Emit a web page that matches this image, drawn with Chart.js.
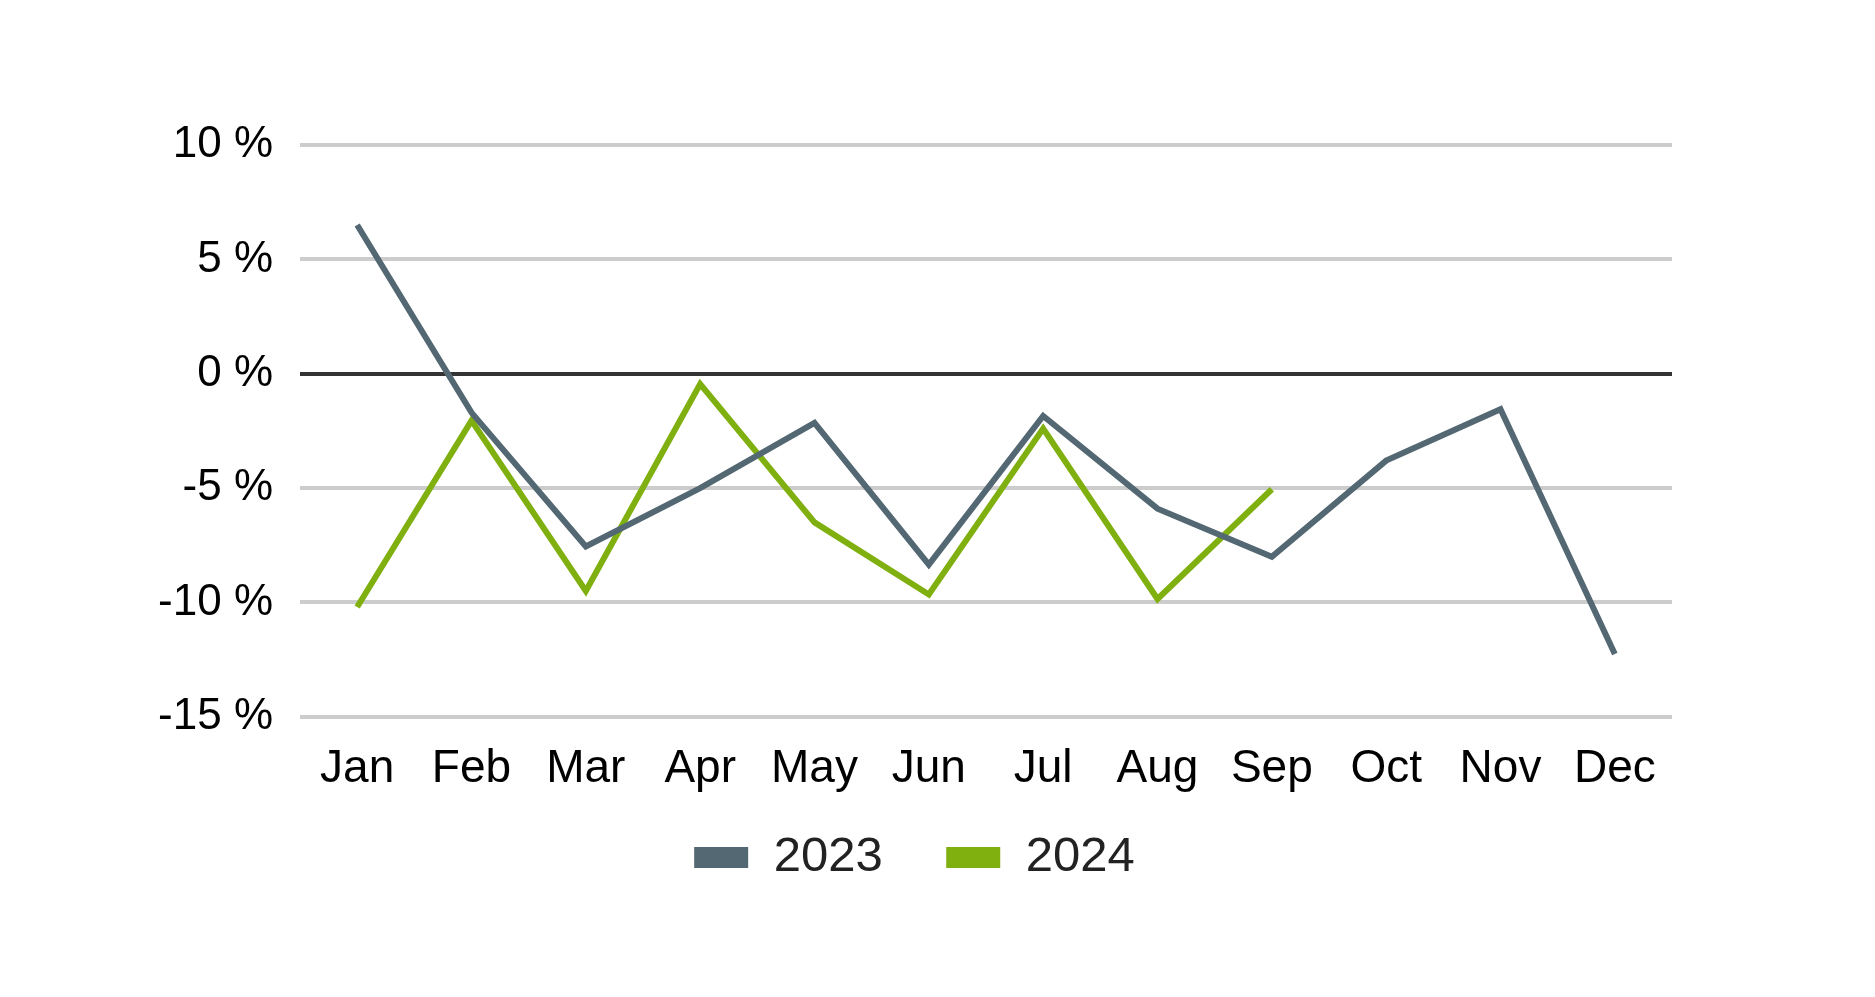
<!DOCTYPE html>
<html lang="en">
<head>
    <meta charset="UTF-8">
    <script src="https://cdn.jsdelivr.net/npm/chart.js"></script>
    <title>2023 vs 2024</title>
    <style>
        html, body {
            margin: 0;
            padding: 0;
            background: #ffffff;
        }
        .chart-box {
            width: 1875px;
            height: 997px;
        }
    </style>
</head>
<body>
<div class="chart-box">
    <canvas id="grafico"></canvas>
</div>

<script>
    // Datos (variación en %)
    const meses = ['Jan', 'Feb', 'Mar', 'Apr', 'May', 'Jun', 'Jul', 'Aug', 'Sep', 'Oct', 'Nov', 'Dec'];
    const valores2023 = [6.5, -1.7, -7.55, -5.0, -2.15, -8.35, -1.85, -5.9, -8.0, -3.8, -1.55, -12.25];
    const valores2024 = [-10.2, -2.05, -9.5, -0.45, -6.5, -9.65, -2.4, -9.85, -5.05];
    const ticksY = [10, 5, 0, -5, -10, -15];

    const fuente = "'Liberation Sans', Arial, sans-serif";

    const ctx = document.getElementById('grafico').getContext('2d');
    new Chart(ctx, {
        type: 'line',
        data: {
            labels: meses,
            datasets: [
                {
                    label: '2023',
                    data: valores2023,
                    borderColor: '#536872',
                    backgroundColor: '#536872',
                    borderWidth: 6,
                    pointRadius: 0,
                    tension: 0,
                    borderJoinStyle: 'miter'
                },
                {
                    label: '2024',
                    data: valores2024,
                    borderColor: '#7fb00f',
                    backgroundColor: '#7fb00f',
                    borderWidth: 6,
                    pointRadius: 0,
                    tension: 0,
                    borderJoinStyle: 'miter'
                }
            ]
        },
        options: {
            responsive: true,
            maintainAspectRatio: false,
            animation: false,
            layout: {
                padding: { top: 145, right: 43, bottom: 105, left: 0 }
            },
            plugins: {
                tooltip: { enabled: false },
                legend: {
                    position: 'bottom',
                    labels: {
                        boxWidth: 48,
                        boxHeight: 15,
                        padding: 12,
                        color: '#222222',
                        font: { family: fuente, size: 49 },
                        // pequeño espacio tras la caja, y hueco extra entre los dos años
                        generateLabels: chart =>
                            Chart.defaults.plugins.legend.labels.generateLabels(chart)
                                .map((item, i) => ({
                                    ...item,
                                    text: '\u200A' + item.text + (i === 0 ? '    ' : '')
                                }))
                    }
                }
            },
            scales: {
                x: {
                    offset: true,
                    afterFit: scale => { scale.height += 7; },
                    grid: { display: false },
                    border: { display: false },
                    ticks: {
                        autoSkip: false,
                        maxRotation: 0,
                        padding: 17,
                        color: '#000000',
                        font: { family: fuente, size: 46 }
                    }
                },
                y: {
                    min: -15,
                    max: 10,
                    afterFit: scale => { scale.width = 300; },
                    afterBuildTicks: scale => {
                        scale.ticks = ticksY.map(v => ({ value: v }));
                    },
                    border: { display: false },
                    grid: {
                        drawTicks: false,
                        lineWidth: 4,
                        color: c => (c.tick && c.tick.value === 0) ? '#333333' : '#cccccc'
                    },
                    ticks: {
                        padding: 27,
                        color: '#000000',
                        font: { family: fuente, size: 44 },
                        callback: v => v + ' %'
                    }
                },
                // eje vacío a la derecha para dejar el hueco del gráfico original
                derecha: {
                    position: 'right',
                    afterFit: scale => { scale.width = 160; },
                    grid: { display: false },
                    border: { display: false },
                    ticks: { display: false }
                }
            }
        }
    });
</script>
</body>
</html>
